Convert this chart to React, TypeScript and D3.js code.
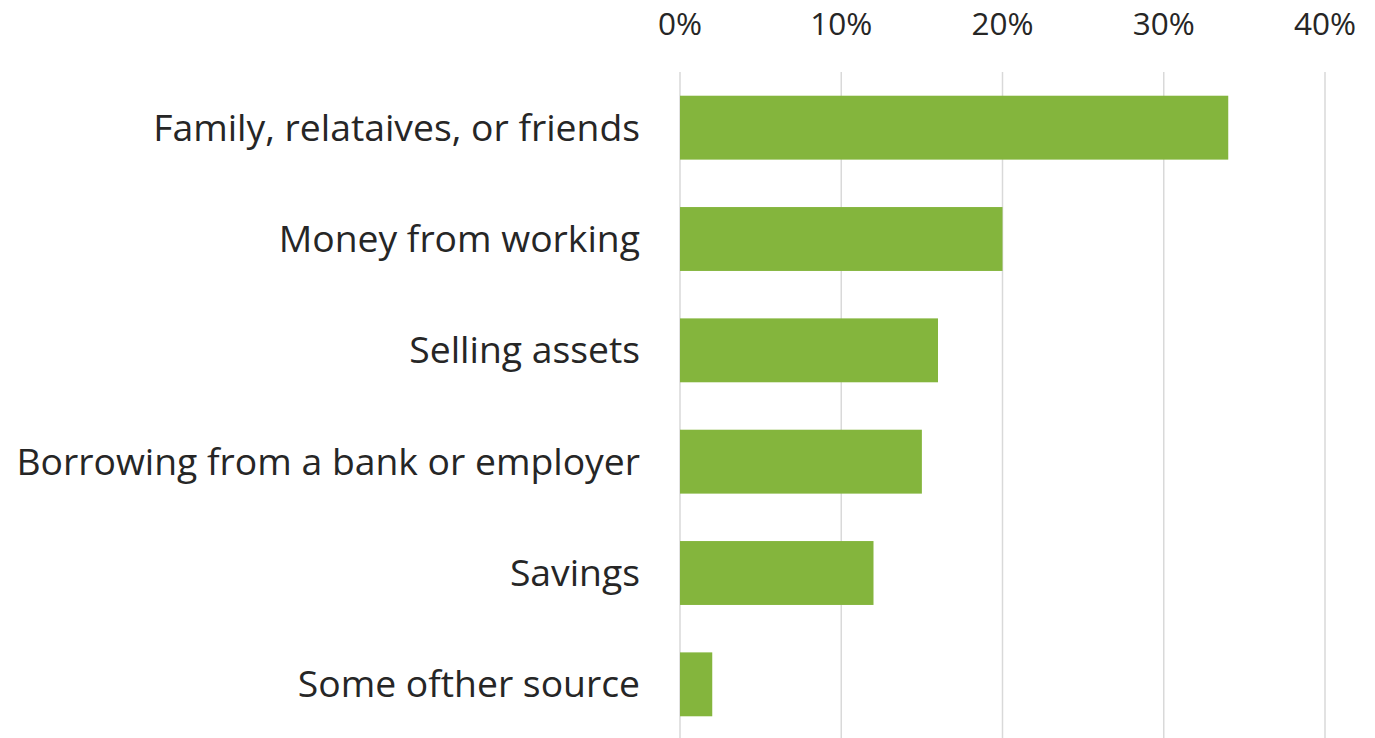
import React, { useEffect } from "react";
import * as d3 from "d3";

const categories = [
  "Family, relataives, or friends",
  "Money from working",
  "Selling assets",
  "Borrowing from a bank or employer",
  "Savings",
  "Some ofther source",
];
const values = [0.34, 0.2, 0.16, 0.15, 0.12, 0.02];
const tickValues = [0, 0.1, 0.2, 0.3, 0.4];

const W = 1375;
const H = 738;

export default function App() {
  useEffect(() => {
    document.body.style.margin = "0";
  }, []);

  const x = d3.scaleLinear().domain([0, 0.4]).range([680, 1325]);
  const y = d3
    .scaleBand<string>()
    .domain(categories)
    .range([72, 740])
    .paddingInner(0.426)
    .paddingOuter(0.213);
  const fmt = d3.format(".0%");
  const font = "'Open Sans', sans-serif";

  return (
    <svg width={W} height={H} style={{ display: "block", background: "#fff" }}>
      {tickValues.map((t) => (
        <g key={t}>
          <line
            x1={x(t)}
            x2={x(t)}
            y1={72}
            y2={H}
            stroke="#d9d9d9"
            strokeWidth={1.5}
          />
          <text
            x={x(t)}
            y={35}
            textAnchor="middle"
            fontFamily={font}
            fontSize={31.5}
            fill="#262626"
          >
            {fmt(t)}
          </text>
        </g>
      ))}
      {categories.map((c, i) => (
        <g key={c}>
          <rect
            x={x(0)}
            y={y(c)}
            width={x(values[i]) - x(0)}
            height={y.bandwidth()}
            fill="#84b53d"
          />
          <text
            x={640}
            y={(y(c) as number) + y.bandwidth() / 2}
            dy="0.35em"
            textAnchor="end"
            fontFamily={font}
            fontSize={37.3}
            fill="#262626"
          >
            {c}
          </text>
        </g>
      ))}
    </svg>
  );
}
